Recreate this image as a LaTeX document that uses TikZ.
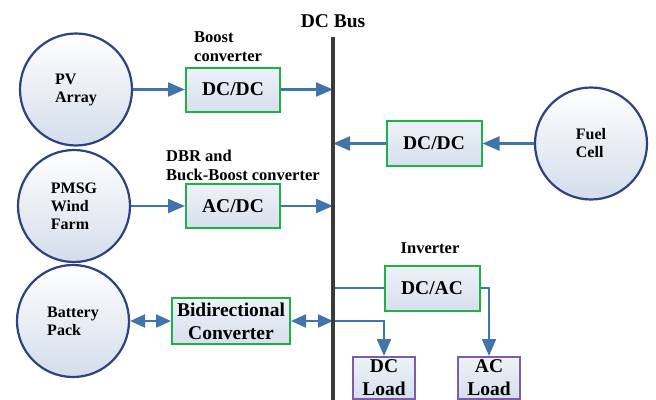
\documentclass[tikz,border=0pt]{standalone}
\usepackage{fontspec}
\setmainfont{Liberation Serif}
\usetikzlibrary{arrows.meta,positioning}
\definecolor{rimblue}{HTML}{2E4180}
\definecolor{circfill}{HTML}{D3DDEB}
\definecolor{convgreen}{HTML}{1FB04C}
\definecolor{boxtop}{HTML}{EEF2F8}
\definecolor{boxbot}{HTML}{D6DFEC}
\definecolor{loadpurple}{HTML}{7B5EA7}
\definecolor{flowblue}{HTML}{3F74AD}
\definecolor{busgray}{HTML}{3B3B3B}
\tikzset{
  source/.style={circle,draw=rimblue,line width=2.2pt,minimum size=112pt,inner sep=0pt,
    top color=white,bottom color=circfill,align=left,font=\fontsize{16}{18}\selectfont\bfseries},
  conv/.style={rectangle,draw=convgreen,line width=2pt,top color=boxtop,bottom color=boxbot,
    minimum width=94pt,minimum height=44pt,align=center,font=\fontsize{19.5}{23}\selectfont\bfseries},
  load/.style={conv,draw=loadpurple,minimum width=62pt,minimum height=0pt,inner ysep=3pt,anchor=north},
  lbl/.style={align=left,inner sep=0pt,font=\fontsize{16.5}{19}\selectfont\bfseries},
  flow/.style={draw=flowblue,line width=2.2pt,-{Triangle[length=17pt,width=14pt]}},
  flowboth/.style={draw=flowblue,line width=2.2pt,{Triangle[length=15pt,width=13pt]}-{Triangle[length=15pt,width=13pt]}},
  link/.style={draw=flowblue,line width=2.2pt},
  bus/.style={draw=busgray,line width=3.5pt},
}
\begin{document}
\begin{tikzpicture}[x=1pt,y=-1pt]
  \clip (0,0) rectangle (656,399);
  % sources
  \node [source] (pv) at (76,89.5) {PV\\Array};
  \node [source] (pmsg) at (74,206) {PMSG\\Wind\\Farm};
  \node [source] (batt) at (73,321) {Battery\\Pack};
  \node [source] (fuel) at (591,143.5) {Fuel\\Cell};
  % converters
  \node [conv] (dcdcpv) at (233,89.5) {DC/DC};
  \node [conv] (acdc) at (233,206) {AC/DC};
  \node [conv,minimum width=118pt,minimum height=46pt] (bidir) at (231,321) {Bidirectional\\Converter};
  \node [conv,minimum width=95pt,minimum height=45pt] (dcdcfc) at (434,143.5) {DC/DC};
  \node [conv,minimum width=95pt,minimum height=45pt] (dcac) at (432,288) {DC/AC};
  % loads
  \node [load] (dcload) at (384,356) {DC\\Load};
  \node [load] (acload) at (489,356) {AC\\Load};
  % bus
  \coordinate (bustop) at (333,37);
  \coordinate (busbot) at (333,405);
  % labels
  \node [lbl,anchor=base,font=\fontsize{19.5}{23}\selectfont\bfseries] (buslbl) at (333,27) {DC Bus};
  \node [lbl,anchor=north west] (boostlbl) at (194,31) {Boost\\converter};
  \node [lbl,anchor=north west] (dbrlbl) at (166,150) {DBR and\\Buck-Boost converter};
  \node [lbl,anchor=base] (invlbl) at (430,253) {Inverter};
  % connectors
  \draw [flow] (pv) -- (dcdcpv);
  \draw [flow] (dcdcpv) -- (dcdcpv -| bustop);
  \draw [flow] (pmsg) -- (acdc);
  \draw [flow] (acdc) -- (acdc -| bustop);
  \draw [flow] (fuel) -- (dcdcfc);
  \draw [flow] (dcdcfc) -- (dcdcfc -| bustop);
  \draw [flowboth] (batt) -- (bidir);
  \draw [flowboth] (bidir) -- (bidir -| bustop);
  \draw [flow] (bidir -| bustop) -| (dcload);
  \draw [link] (dcac -| bustop) -- (dcac);
  \draw [flow] (dcac) -| (acload);
  \draw [bus] (bustop) -- (busbot);
\end{tikzpicture}
\end{document}
